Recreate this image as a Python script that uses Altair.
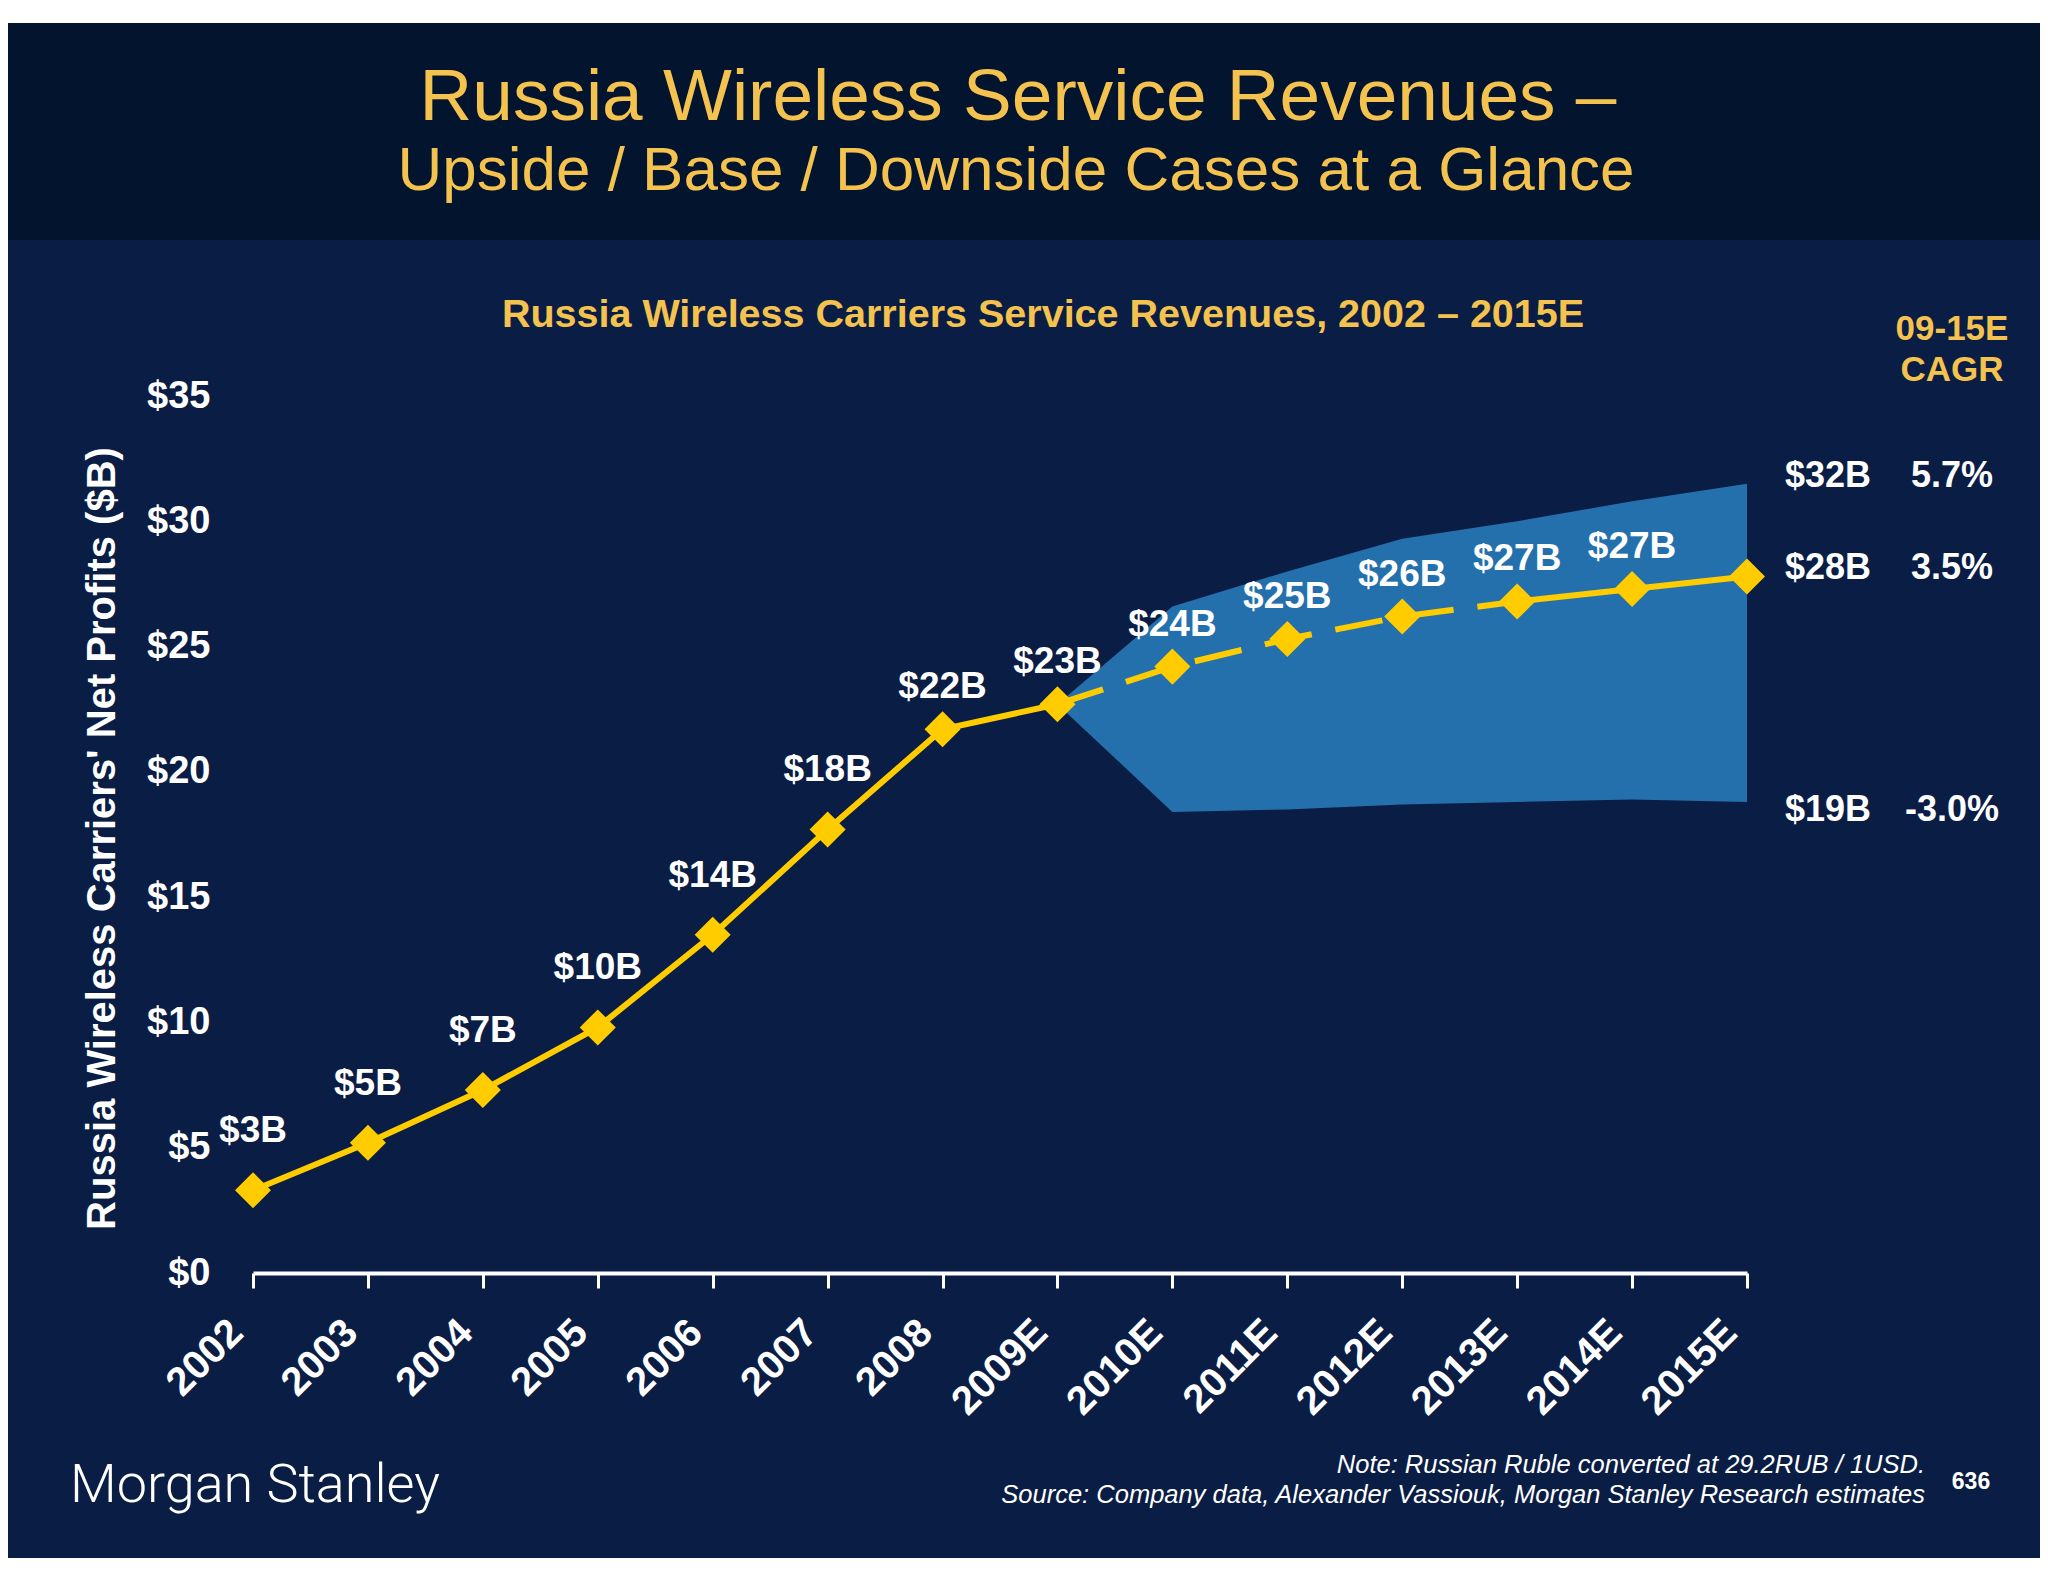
import altair as alt
import pandas as pd

# ---------------- data ----------------
years = ["2002", "2003", "2004", "2005", "2006", "2007", "2008",
         "2009E", "2010E", "2011E", "2012E", "2013E", "2014E", "2015E"]
base_case = [3.3, 5.2, 7.3, 9.8, 13.5, 17.7, 21.7,
             22.7, 24.2, 25.3, 26.2, 26.8, 27.3, 27.8]
point_labels = ["$3B", "$5B", "$7B", "$10B", "$14B", "$18B", "$22B",
                "$23B", "$24B", "$25B", "$26B", "$27B", "$27B"]
band_years = ["2009E", "2010E", "2011E", "2012E", "2013E", "2014E", "2015E"]
upside_case = [22.7, 26.6, 28.0, 29.3, 30.0, 30.8, 31.5]
downside_case = [22.7, 18.4, 18.5, 18.7, 18.8, 18.9, 18.8]
end_labels = ["$32B", "$28B", "$19B"]
cagr_labels = ["5.7%", "3.5%", "-3.0%"]
y_ticks = [0, 5, 10, 15, 20, 25, 30, 35]

title_1 = "Russia Wireless Service Revenues \u2013"
title_2 = "Upside / Base / Downside Cases at a Glance"
subtitle = "Russia Wireless Carriers Service Revenues, 2002 \u2013 2015E"
y_title = "Russia Wireless Carriers' Net Profits ($B)"
cagr_head = ["09-15E", "CAGR"]
note_1 = "Note: Russian Ruble converted at 29.2RUB / 1USD."
note_2 = "Source: Company data, Alexander Vassiouk, Morgan Stanley Research estimates"
logo = "Morgan Stanley"
page_no = "636"

# ---------------- styles ----------------
FONT = "Liberation Sans"
GOLD = "#FFCC00"
YELLOW = "#F4C24E"
HEADER_BG = "#03142E"
MAIN_BG = "#0A1D44"
BAND = "#2470AD"
W, H = 1494, 877

# ---------------- tables ----------------
base_df = pd.DataFrame({"year": years, "value": base_case})
label_df = pd.DataFrame({"year": years[:len(point_labels)],
                         "value": base_case[:len(point_labels)],
                         "label": point_labels,
                         "idx": list(range(len(point_labels)))})
band_df = pd.DataFrame({"year": band_years, "upper": upside_case, "lower": downside_case})

i9 = years.index("2009E")
i13 = years.index("2013E")
seg_rows = []
for i in range(0, i9 + 1):
    seg_rows.append({"year": years[i], "value": base_case[i], "seg": "a"})
for i in range(i9, i13 + 1):
    seg_rows.append({"year": years[i], "value": base_case[i], "seg": "b"})
for i in range(i13, len(years)):
    seg_rows.append({"year": years[i], "value": base_case[i], "seg": "c"})
seg_df = pd.DataFrame(seg_rows)

end_df = pd.DataFrame({"year": [years[-1]] * 3,
                       "value": [upside_case[-1], base_case[-1], downside_case[-1]],
                       "label": end_labels, "cagr": cagr_labels,
                       "case": ["up", "base", "down"]})
one = pd.DataFrame({"a": [0]})

x_axis = alt.Axis(title=None, domainColor="white", domainWidth=4, tickColor="white",
                  tickWidth=3, tickSize=15, labelAngle=-45, labelAlign="right",
                  labelBaseline="top", labelFont=FONT, labelFontSize=40,
                  labelFontWeight="bold", labelColor="white", labelPadding=24,
                  labelOffset=-31, labelOverlap=False, grid=False, zindex=2)
y_axis = alt.Axis(values=y_ticks, labelExpr="'$' + datum.value", domain=False, ticks=False,
                  grid=False, labelFont=FONT, labelFontSize=38, labelFontWeight="bold",
                  labelColor="white", labelPadding=43, title=y_title, titleFont=FONT,
                  titleFontSize=40, titleFontWeight="bold", titleColor="white",
                  titleAngle=270, titleX=-139, titleY=442, titleAlign="center",
                  titleBaseline="alphabetic", zindex=2)
x_enc = alt.X("year:N", scale=alt.Scale(type="point", domain=years, padding=0), axis=x_axis)
y_scale = alt.Scale(domain=[0, 35], nice=False, zero=True)


def yq(field):
    return alt.Y(field, scale=y_scale, axis=y_axis)


def rect(x1, x2, y1, y2, color):
    return alt.Chart(one).mark_rect(color=color).encode(
        x=alt.value(x1), x2=alt.value(x2), y=alt.value(y1), y2=alt.value(y2))


def txt(text, x, y, size, color, weight="normal", align="center", style="normal", font=FONT):
    return alt.Chart(one).mark_text(text=text, font=font, fontSize=size, color=color,
                                    fontWeight=weight, align=align, fontStyle=style,
                                    baseline="alphabetic").encode(
        x=alt.value(x), y=alt.value(y))


bg_main = rect(-245, 1787, -373, 1162, MAIN_BG)
bg_head = rect(-245, 1787, -373, -156, HEADER_BG)

band = alt.Chart(band_df).mark_area(color=BAND, opacity=1, interpolate="linear").encode(
    x=x_enc, y=yq("upper:Q"), y2="lower:Q")

line_solid = alt.Chart(seg_df).transform_filter("datum.seg != 'b'").mark_line(
    color=GOLD, strokeWidth=6).encode(x=x_enc, y=yq("value:Q"), detail="seg:N")
line_dash = alt.Chart(seg_df).transform_filter("datum.seg == 'b'").mark_line(
    color=GOLD, strokeWidth=6, strokeDash=[48, 24]).encode(
    x=x_enc, y=yq("value:Q"), detail="seg:N")

diamonds = alt.Chart(base_df).mark_point(shape="diamond", filled=True, size=1300,
                                         color=GOLD, opacity=1, strokeWidth=0).encode(
    x=x_enc, y=yq("value:Q"))

lab_hist = alt.Chart(label_df).transform_filter("datum.idx < 6").mark_text(
    font=FONT, fontSize=37, fontWeight="bold", color="white", dy=-48,
    baseline="alphabetic").encode(x=x_enc, y=yq("value:Q"), text="label:N")
lab_fc = alt.Chart(label_df).transform_filter("datum.idx >= 6").mark_text(
    font=FONT, fontSize=37, fontWeight="bold", color="white", dy=-31,
    baseline="alphabetic").encode(x=x_enc, y=yq("value:Q"), text="label:N")

end_top = alt.Chart(end_df).transform_filter("datum.case != 'down'")
end_bot = alt.Chart(end_df).transform_filter("datum.case == 'down'")
end_layers = []
for src, bl, ddy in [(end_top, "alphabetic", 3), (end_bot, "middle", 8)]:
    end_layers.append(src.mark_text(font=FONT, fontSize=36, fontWeight="bold",
                                    color="white", align="left", dx=38, dy=ddy,
                                    baseline=bl).encode(
        x=x_enc, y=yq("value:Q"), text="label:N"))
    end_layers.append(src.mark_text(font=FONT, fontSize=36, fontWeight="bold",
                                    color="white", align="center", dx=205, dy=ddy,
                                    baseline=bl).encode(
        x=x_enc, y=yq("value:Q"), text="cagr:N"))

texts = [
    txt(title_1, 765, -276, 73, YELLOW),
    txt(title_2, 763, -206, 62, YELLOW),
    txt(subtitle, 790, -69, 39.5, YELLOW, weight="bold"),
    txt(cagr_head[0], 1699, -56, 35, YELLOW, weight="bold"),
    txt(cagr_head[1], 1699, -15, 35, YELLOW, weight="bold"),
    txt(logo, -183, 1106, 54, "white", weight=300, align="left", font="Roboto"),
    txt(note_1, 1672, 1077, 25.5, "white", align="right", style="italic"),
    txt(note_2, 1672, 1107, 25.5, "white", align="right", style="italic"),
    txt(page_no, 1718, 1093, 23, "white", weight="bold"),
]

chart = alt.layer(bg_main, bg_head, band, line_solid, line_dash, diamonds,
                  lab_hist, lab_fc, *end_layers, *texts).properties(
    width=W, height=H,
    padding={"left": 245, "top": 388, "right": 293, "bottom": 301},
    autosize=alt.AutoSizeParams(type="none"),
    background="white",
).configure_view(strokeWidth=0, fill=None).configure(font=FONT)

chart.save("out.html", embed_options={"renderer": "svg", "actions": False})
